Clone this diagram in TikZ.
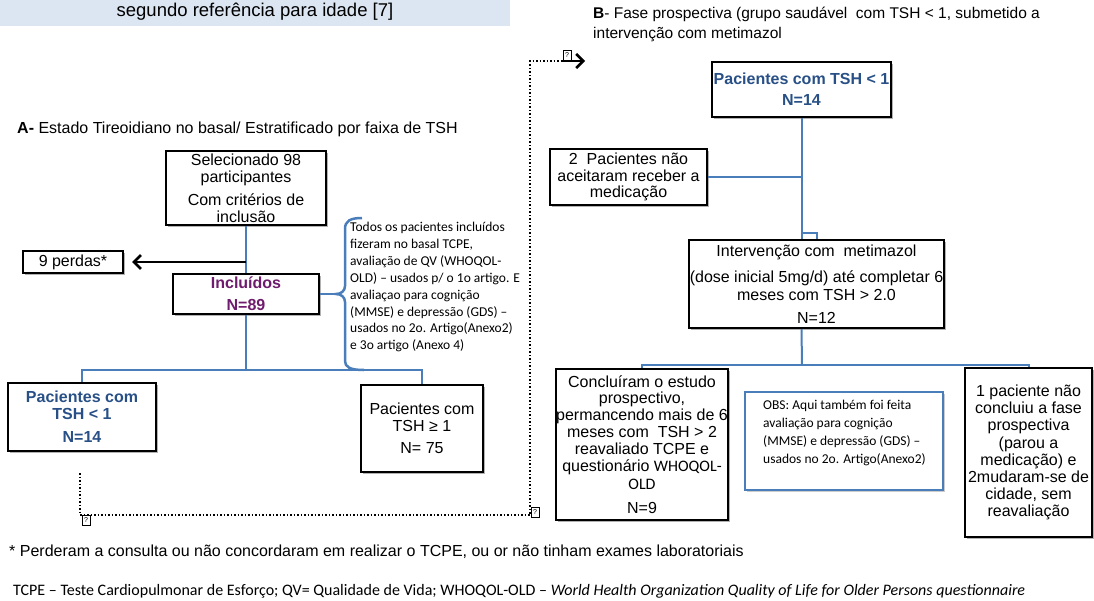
\documentclass[tikz,border=0pt]{standalone}
\usepackage{fontspec}
\setmainfont{Liberation Sans}
\newfontfamily\calib{Carlito}
\usetikzlibrary{arrows.meta,shadows,calc}
\definecolor{lnblue}{RGB}{74,126,187}
\definecolor{txtblue}{RGB}{40,80,135}
\definecolor{purp}{RGB}{112,28,110}
\definecolor{bannerfill}{RGB}{220,230,242}
\begin{document}
\begin{tikzpicture}[x=1pt,y=-1pt,
  box/.style={draw=black, line width=2.3pt, fill=white, inner sep=0pt, align=center,
    font=\fontsize{16}{17}\selectfont,
    drop shadow={shadow xshift=2pt, shadow yshift=-2pt, opacity=0.3, fill=black}},
  conn/.style={draw=lnblue, line width=2pt},
  blackarrow/.style={draw=black, line width=2pt, -{Straight Barb[length=7pt,width=14pt,line width=2.6pt]}},
  dotline/.style={draw=black, line width=1.5pt, dash pattern=on 1.5pt off 2pt},
  gb/.style={draw=black, line width=0.5pt, inner sep=0.5pt, minimum width=8pt, minimum height=10pt, fill=white, font=\fontsize{7}{7}\selectfont},
  plain/.style={inner sep=0pt}]
\useasboundingbox (0,0) rectangle (1094,600);

% banner and titles
\fill[bannerfill] (0,0) rectangle (510,26);
\node[plain, font=\fontsize{18.5}{20}\selectfont] (ban) at (255,12) {segundo referência para idade [7]};
\node[plain, anchor=west, font=\fontsize{16}{18}\selectfont] (titA) at (17,129) {\textbf{A-} Estado Tireoidiano no basal/ Estratificado por faixa de TSH};
\node[plain, anchor=north west, align=left, font=\fontsize{15.5}{20}\selectfont] (titB) at (593,7) {\textbf{B}- Fase prospectiva (grupo saudável\ \ com TSH < 1, submetido a\\intervenção com metimazol};

% left part
\node[box, minimum width=160pt, minimum height=74pt] (sel) at (246,188) {Selecionado 98\\participantes\\[6pt]Com critérios de\\inclusão};
\node[box, minimum width=100pt, minimum height=22pt] (perdas) at (73,262) {9 perdas*};
\node[box, minimum width=146pt, minimum height=40pt, text=purp, font=\bfseries\fontsize{16}{17}\selectfont] (incl) at (246,294) {Incluídos\\[5pt]N=89};
\node[box, minimum width=148pt, minimum height=68pt, text=txtblue, font=\bfseries\fontsize{16}{16.5}\selectfont] (lowA) at (82,417) {Pacientes com\\TSH < 1\\[7pt]N=14};
\node[box, minimum width=122pt, minimum height=87pt, font=\fontsize{16}{16.5}\selectfont] (highA) at (422,428.5) {Pacientes com\\TSH ≥ 1\\[6pt]N= 75};

\coordinate (p1) at (sel.south |- perdas.east);
\draw[conn] (sel.south) -- (incl.north);
\draw[blackarrow] (p1) -- ([xshift=8pt]perdas.east);
\draw[conn] (incl.south) -- ++(0,55) coordinate (jA);
\draw[conn] (lowA.north) |- (jA) -| (highA.north);

% brace and note
\coordinate (btip) at (336,294);
\draw[conn] (incl.east) -- (btip);
\draw[conn, line width=2.5pt] (362,218) .. controls (350,218) and (345,221) .. (345,229) -- (345,286) .. controls (345,291) and (341,294) .. (btip) .. controls (341,294) and (345,297) .. (345,302) -- (345,361) .. controls (345,367) and (350,370) .. (364,370);
\node[plain, anchor=north west, align=left, font=\calib\fontsize{13.5}{16.9}\selectfont] (note) at (350,222) {Todos os pacientes incluídos\\fizeram no basal TCPE,\\avaliação de QV (WHOQOL-\\OLD) – usados p/ o 1o artigo. E\\avaliaçao para cognição\\(MMSE) e depressão (GDS) –\\usados no 2o. Artigo(Anexo2)\\e 3o artigo (Anexo 4)};

% dotted link
\coordinate (d0) at (80,473);
\coordinate (d1) at (80,515);
\coordinate (d2) at (530,515);
\coordinate (d3) at (530,61);
\coordinate (d4) at (562,61);
\coordinate (dtip) at (585,61);
\draw[dotline] (d0) -- (d1) -- (d2) -- (d3) -- (d4);
\draw[blackarrow] (d4) -- (dtip);
\node[gb] (g1) at (86,520) {?};
\node[gb] (g2) at (535,512) {?};
\node[gb] (g3) at (567,55) {?};

% right part
\node[box, minimum width=179pt, minimum height=55pt, text=txtblue, font=\bfseries\fontsize{16}{17}\selectfont] (topB) at (801.5,89.5) {Pacientes com TSH < 1\\[4pt]N=14};
\node[box, minimum width=157pt, minimum height=56pt, font=\fontsize{16}{16.5}\selectfont] (refuse) at (628.5,177) {2\ \ Pacientes não\\aceitaram receber a\\medicação};
\node[box, minimum width=255pt, minimum height=88pt, font=\fontsize{16}{17.5}\selectfont] (interv) at (816.5,284) {Intervenção com\ \ metimazol\\[8.5pt](dose inicial 5mg/d) até completar 6\\meses com TSH > 2.0\\[5.5pt]N=12};
\node[box, minimum width=172pt, minimum height=151pt, font=\fontsize{16}{16.8}\selectfont] (concl) at (642,444.5) {Concluíram o estudo\\prospectivo,\\permancendo mais de 6\\meses com\ \ TSH > 2\\reavaliado TCPE e\\questionário {\calib WHOQOL-}\\[2pt]{\calib OLD}\\[7pt]N=9};
\node[draw=lnblue, line width=1.8pt, fill=white, inner sep=0pt, minimum width=198pt, minimum height=98pt,
  drop shadow={shadow xshift=2pt, shadow yshift=-2pt, opacity=0.2, fill=black}] (obs) at (844,441) {};
\node[plain, anchor=north west, align=left, font=\calib\fontsize{13.5}{18}\selectfont] (obstxt) at (763,400) {OBS: Aqui também foi feita\\avaliação para cognição\\(MMSE) e depressão (GDS) –\\usados no 2o. Artigo(Anexo2)};
\node[box, minimum width=127pt, minimum height=169pt, font=\fontsize{16}{17.1}\selectfont] (quit) at (1028.5,452.5) {1 paciente não\\concluiu a fase\\prospectiva\\(parou a\\medicação) e\\2mudaram-se de\\cidade, sem\\reavaliação};

\draw[conn] (topB.south) -- (topB.south |- interv.north);
\draw[conn] (interv.north) -- ++(0,-6) -| (topB.south);
\draw[conn] (refuse.east) -- (refuse.east -| topB.south);
\coordinate (jB) at (802,365);
\draw[conn] (topB.south |- interv.south) -- (jB);
\draw[conn] (concl.north) |- (jB) -| (quit.north);

% footnotes
\node[plain, anchor=west, font=\fontsize{16}{18}\selectfont] (fn1) at (9,552) {* Perderam a consulta ou não concordaram em realizar o TCPE, ou or não tinham exames laboratoriais};
\node[plain, anchor=west, font=\calib\fontsize{16}{18}\selectfont] (fn2) at (13,591) {\resizebox{1012pt}{\height}{TCPE – Teste Cardiopulmonar de Esforço; QV= Qualidade de Vida; WHOQOL-OLD – \textit{World Health Organization Quality of Life for Older Persons questionnaire}}};
\end{tikzpicture}
\end{document}
